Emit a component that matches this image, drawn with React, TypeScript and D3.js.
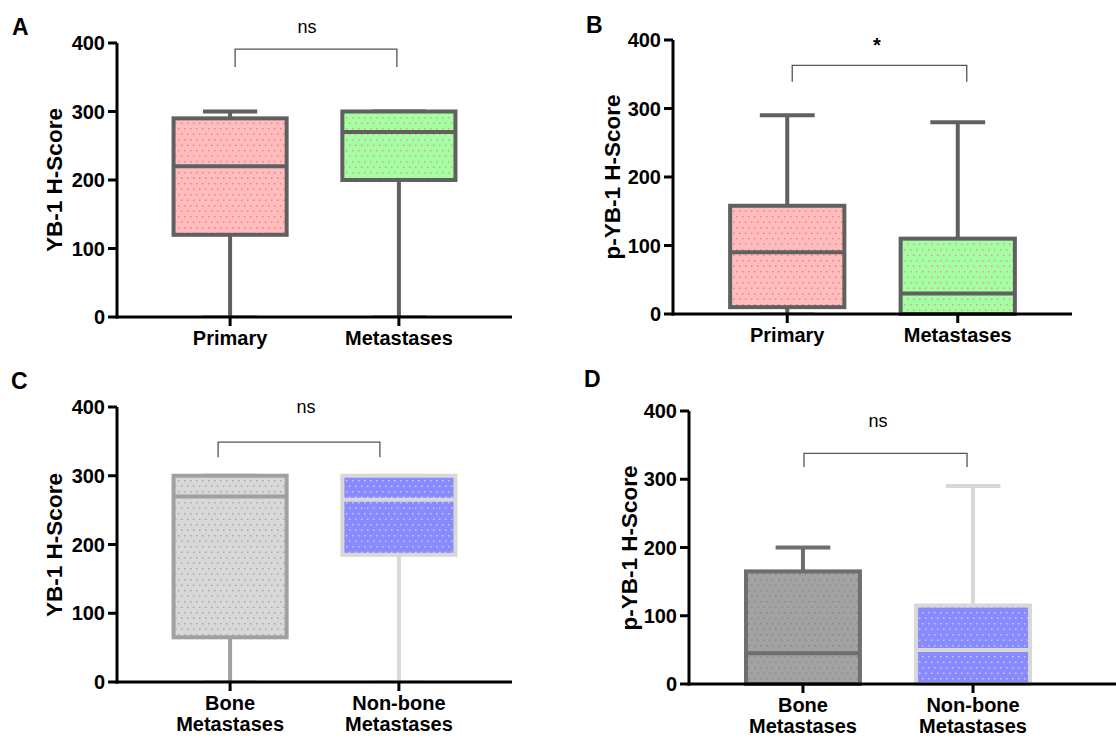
import React from 'react';
import * as d3 from 'd3';

const topCategories = [['Primary'], ['Metastases']];
const boneCategories = [['Bone', 'Metastases'], ['Non-bone', 'Metastases']];
const yTicks = [0, 100, 200, 300, 400];

// each box: [min, q1, median, q3, max]
const statsA = [[0, 120, 220, 290, 300], [0, 200, 270, 300, 300]];
const statsB = [[0, 10, 90, 158, 290], [0, 0, 30, 110, 280]];
const statsC = [[0, 65, 270, 300, 300], [0, 185, 265, 300, 300]];
const statsD = [[0, 0, 45, 165, 200], [0, 0, 50, 115, 290]];

const panelLetters = ['A', 'B', 'C', 'D'];
const sigLabels = ['ns', '*', 'ns', 'ns'];
const yTitles = ['YB-1 H-Score', 'p-YB-1 H-Score', 'YB-1 H-Score', 'p-YB-1 H-Score'];
// bracket [top, leg end] in H-score units
const bracketValues = [[391, 365], [363, 339], [349, 327], [338, 318]];

const patterns = [
  { id: 'pink', bg: '#ffbdbd', dot: '#ff7b7b' },
  { id: 'green', bg: '#a4ffa4', dot: '#e6a07c' },
  { id: 'lightgrey', bg: '#d8d8d8', dot: '#a8a8a8' },
  { id: 'blue', bg: '#8a8aff', dot: '#c8c8ff' },
  { id: 'midgrey', bg: '#a2a2a2', dot: '#888888' },
];

const FONT = "'Liberation Sans', Arial, sans-serif";

// layout only (pixels)
const panels = [
  { left: 117, right: 512, axisEnd: 512, top: 43, bottom: 317, stats: statsA, cats: topCategories,
    boxStyle: [{ stroke: '#606060', fill: 'pink' }, { stroke: '#606060', fill: 'green' }],
    letter: [12, 35], titleX: 62, titleY: 180, bracketDx: [5, -2], sigPos: [307, 33] },
  { left: 673, right: 1072, axisEnd: 1072, top: 40, bottom: 314, stats: statsB, cats: topCategories,
    boxStyle: [{ stroke: '#606060', fill: 'pink' }, { stroke: '#606060', fill: 'green' }],
    letter: [586, 33], titleX: 620, titleY: 177, bracketDx: [5, 9], sigPos: [877, 52] },
  { left: 117, right: 512, axisEnd: 512, top: 407, bottom: 682, stats: statsC, cats: boneCategories,
    boxStyle: [{ stroke: '#a0a0a0', fill: 'lightgrey' }, { stroke: '#d8d8d8', fill: 'blue' }],
    letter: [11, 389], titleX: 62, titleY: 545, bracketDx: [-12, -19], sigPos: [306, 413] },
  { left: 689, right: 1087, axisEnd: 1116, top: 411, bottom: 684, stats: statsD, cats: boneCategories,
    boxStyle: [{ stroke: '#6e6e6e', fill: 'midgrey' }, { stroke: '#d8d8d8', fill: 'blue' }],
    letter: [584, 387], titleX: 637, titleY: 548, bracketDx: [1, -6], sigPos: [878, 427] },
];

function Panel({ p, i }: { p: any; i: number }) {
  const y = d3.scaleLinear().domain([0, 400]).range([p.bottom, p.top]);
  const names = p.cats.map((c: string[]) => c.join(' '));
  const x = d3.scalePoint<string>().domain(names).range([p.left, p.right]).padding(0.67);
  const boxW = x.step() * 0.67;
  const capW = boxW * 0.48;
  const [bTop, bLeg] = bracketValues[i];
  const bx1 = (x(names[0]) as number) + p.bracketDx[0];
  const bx2 = (x(names[1]) as number) + p.bracketDx[1];

  return (
    <g>
      <text x={p.letter[0]} y={p.letter[1]} fontFamily={FONT} fontWeight="bold" fontSize={23}>
        {panelLetters[i]}
      </text>

      {p.stats.map((s: number[], j: number) => {
        const cx = x(names[j]) as number;
        const st = p.boxStyle[j];
        const [mn, q1, med, q3, mx] = s;
        return (
          <g key={j}>
            <line x1={cx} x2={cx} y1={y(q3)} y2={y(mx)} stroke={st.stroke} strokeWidth={4} />
            <line x1={cx} x2={cx} y1={y(q1)} y2={y(mn)} stroke={st.stroke} strokeWidth={4} />
            <line x1={cx - capW / 2} x2={cx + capW / 2} y1={y(mx)} y2={y(mx)} stroke={st.stroke} strokeWidth={4} />
            <line x1={cx - capW / 2} x2={cx + capW / 2} y1={y(mn) - 1} y2={y(mn) - 1} stroke={st.stroke} strokeOpacity={0.4} strokeWidth={2} />
            <rect x={cx - boxW / 2} y={y(q3)} width={boxW} height={y(q1) - y(q3)}
              fill={`url(#pat-${st.fill})`} stroke={st.stroke} strokeWidth={4} />
            <line x1={cx - boxW / 2} x2={cx + boxW / 2} y1={y(med)} y2={y(med)} stroke={st.stroke} strokeWidth={4} />
          </g>
        );
      })}

      {/* axes */}
      <line x1={p.left} x2={p.left} y1={p.top} y2={p.bottom + 1.5} stroke="#000" strokeWidth={3} />
      <line x1={p.left - 1.5} x2={p.axisEnd} y1={p.bottom} y2={p.bottom} stroke="#000" strokeWidth={3} />
      {yTicks.map(t => (
        <g key={t}>
          <line x1={p.left - 9} x2={p.left} y1={y(t)} y2={y(t)} stroke="#000" strokeWidth={3} />
          <text x={p.left - 12} y={y(t)} dy="0.36em" textAnchor="end" fontFamily={FONT}
            fontWeight="bold" fontSize={20}>{t}</text>
        </g>
      ))}
      {names.map((n: string, j: number) => {
        const cx = x(n) as number;
        const lines = p.cats[j];
        return (
          <g key={n}>
            <line x1={cx} x2={cx} y1={p.bottom} y2={p.bottom + 9} stroke="#000" strokeWidth={3} />
            <text textAnchor="middle" fontFamily={FONT} fontWeight="bold" fontSize={20}>
              {lines.map((l: string, k: number) => (
                <tspan key={k} x={cx} y={p.bottom + 28 + k * 21}>{l}</tspan>
              ))}
            </text>
          </g>
        );
      })}
      <text transform={`translate(${p.titleX},${p.titleY}) rotate(-90)`} textAnchor="middle"
        fontFamily={FONT} fontWeight="bold" fontSize={22.5}>{yTitles[i]}</text>

      {/* significance bracket */}
      <path d={`M${bx1},${y(bLeg)}V${y(bTop)}H${bx2}V${y(bLeg)}`} fill="none" stroke="#555" strokeWidth={1.3} />
      <text x={p.sigPos[0]} y={p.sigPos[1]} textAnchor="middle" fontFamily={FONT}
        fontSize={sigLabels[i] === '*' ? 20 : 18} fontWeight={sigLabels[i] === '*' ? 'bold' : 'normal'}>
        {sigLabels[i]}
      </text>
    </g>
  );
}

export default function App() {
  return (
    <svg width={1116} height={738} style={{ position: 'absolute', left: 0, top: 0, background: '#fff' }}>
      <defs>
        {patterns.map(pt => (
          <pattern key={pt.id} id={`pat-${pt.id}`} width={6} height={11} patternUnits="userSpaceOnUse">
            <rect width={6} height={11} fill={pt.bg} />
            <rect x={1} y={1.5} width={1.5} height={1.5} fill={pt.dot} />
            <rect x={4} y={7} width={1.5} height={1.5} fill={pt.dot} />
          </pattern>
        ))}
      </defs>
      {panels.map((p, i) => <Panel key={i} p={p} i={i} />)}
    </svg>
  );
}
